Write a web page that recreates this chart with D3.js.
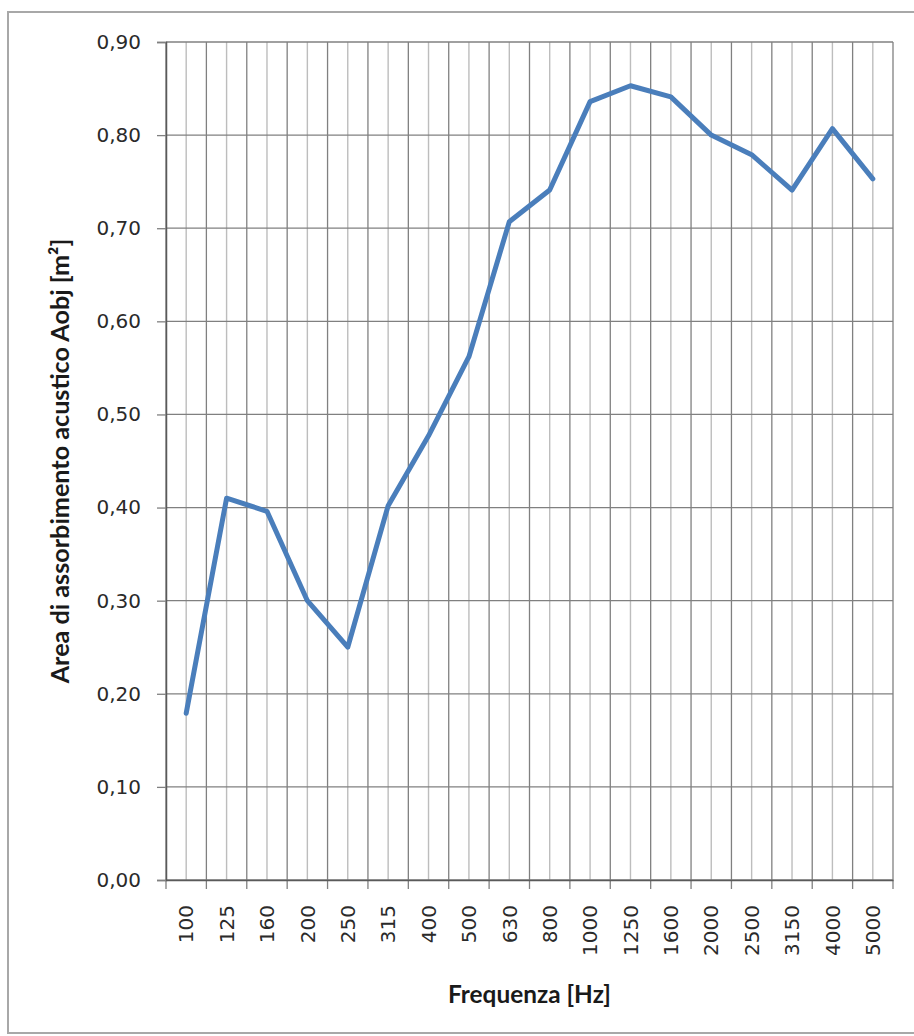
<!DOCTYPE html>
<html>
<head>
<meta charset="utf-8">
<script src="https://cdn.jsdelivr.net/npm/d3@7"></script>
<style>
  html, body { margin: 0; padding: 0; background: #fff; }
  svg { display: block; }
</style>
</head>
<body>
<script>
const categories = ["100","125","160","200","250","315","400","500","630","800","1000","1250","1600","2000","2500","3150","4000","5000"];
const values = [0.179,0.410,0.396,0.300,0.250,0.402,0.477,0.562,0.707,0.741,0.836,0.853,0.841,0.800,0.779,0.741,0.807,0.753];
const yTicks = [0,0.1,0.2,0.3,0.4,0.5,0.6,0.7,0.8,0.9];
const yTickLabels = ["0,00","0,10","0,20","0,30","0,40","0,50","0,60","0,70","0,80","0,90"];
const yTitle = "Area di assorbimento acustico Aobj [m²]";
const xTitle = "Frequenza [Hz]";

const W = 914, H = 1036;
const L = 166, R = 893, T = 42, B = 880;

const svg = d3.select("body").append("svg").attr("width", W).attr("height", H);

// outer frame
svg.append("rect").attr("x", 8).attr("y", 12).attr("width", 920).attr("height", 1021)
  .attr("fill", "#fff").attr("stroke", "#a8a8a8").attr("stroke-width", 2);

const x = d3.scaleBand().domain(categories).range([L, R]).padding(0);
const y = d3.scaleLinear().domain([0, 0.9]).range([B, T]);
const cx = c => x(c) + x.bandwidth() / 2;

// vertical gridlines: centers (lighter) and boundaries (darker)
const g = svg.append("g");
g.selectAll("line.vc").data(categories).join("line")
  .attr("x1", d => cx(d)).attr("x2", d => cx(d)).attr("y1", T).attr("y2", B)
  .attr("stroke", "#bdbdbd").attr("stroke-width", 1.4);
const bounds = categories.map(c => x(c)).concat([x.range()[1]]);
g.selectAll("line.vb").data(bounds).join("line")
  .attr("x1", d => d).attr("x2", d => d).attr("y1", T).attr("y2", B + 9)
  .attr("stroke", "#808080").attr("stroke-width", 1.3);
// horizontal gridlines
g.selectAll("line.h").data(yTicks).join("line")
  .attr("x1", L).attr("x2", R).attr("y1", d => y(d)).attr("y2", d => y(d))
  .attr("stroke", "#808080").attr("stroke-width", 1.3);

// y axis
const ya = svg.append("g").attr("transform", `translate(${L},0)`)
  .call(d3.axisLeft(y).tickValues(yTicks).tickFormat((d, i) => yTickLabels[i]).tickSize(9).tickPadding(16));
ya.select(".domain").attr("stroke", "#5a5a5a").attr("stroke-width", 1.5);
ya.selectAll(".tick line").attr("stroke", "#808080").attr("stroke-width", 1.3);
ya.selectAll("text").attr("font-family", "DejaVu Sans").attr("font-size", 20).attr("fill", "#2a2a2a");

// x axis
const xa = svg.append("g").attr("transform", `translate(0,${B})`)
  .call(d3.axisBottom(x).tickSize(0).tickPadding(0));
xa.select(".domain").attr("stroke", "#5a5a5a").attr("stroke-width", 1.5);
xa.selectAll("text")
  .attr("font-family", "DejaVu Sans").attr("font-size", 20).attr("fill", "#2a2a2a")
  .attr("text-anchor", "end").attr("transform", "rotate(-90)")
  .attr("x", -25).attr("y", 0).attr("dy", "0.36em");

// line
svg.append("path").datum(values)
  .attr("fill", "none").attr("stroke", "#4a7ebb").attr("stroke-width", 5)
  .attr("stroke-linejoin", "round").attr("stroke-linecap", "round")
  .attr("d", d3.line().x((d, i) => cx(categories[i])).y(d => y(d)));

function fit(sel, target) {
  const len = sel.node().getComputedTextLength();
  const fs = parseFloat(sel.attr("font-size"));
  sel.attr("font-size", fs * target / len);
}

// titles
const yt = svg.append("text").text(yTitle)
  .attr("font-family", "Lato").attr("font-weight", "bold").attr("font-size", 20).attr("fill", "#1a1a1a")
  .attr("text-anchor", "middle").attr("dy", "0.35em")
  .attr("transform", `translate(60,${(T + B) / 2}) rotate(-90)`);
fit(yt, 445);

const xt = svg.append("text").text(xTitle)
  .attr("font-family", "Lato").attr("font-weight", "bold").attr("font-size", 20).attr("fill", "#1a1a1a")
  .attr("text-anchor", "middle").attr("x", (L + R) / 2).attr("y", 1003);
fit(xt, 163);
</script>
</body>
</html>
